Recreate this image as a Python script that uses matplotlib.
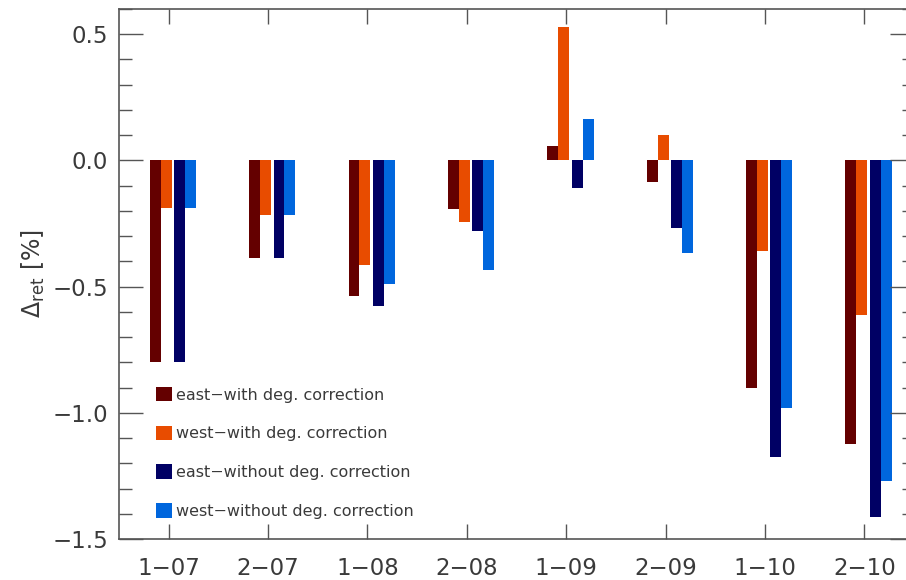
import numpy as np
import matplotlib
matplotlib.use("Agg")
import matplotlib.pyplot as plt
from matplotlib.ticker import MultipleLocator

# retrieval differences per campaign, in percent
campaigns = ["1-07", "2-07", "1-08", "2-08", "1-09", "2-09", "1-10", "2-10"]
east_with = [-0.80, -0.388, -0.538, -0.192, 0.057, -0.087, -0.90, -1.122]
west_with = [-0.19, -0.215, -0.414, -0.245, 0.529, 0.102, -0.36, -0.611]
east_without = [-0.80, -0.388, -0.575, -0.278, -0.108, -0.267, -1.175, -1.411]
west_without = [-0.19, -0.215, -0.491, -0.434, 0.163, -0.366, -0.981, -1.269]

series = [
    ("east\u2212with deg. correction", east_with, "#640000"),
    ("west\u2212with deg. correction", west_with, "#e84c00"),
    ("east\u2212without deg. correction", east_without, "#000064"),
    ("west\u2212without deg. correction", west_without, "#0066dd"),
]
offsets = [-0.135, -0.025, 0.11, 0.22]
width = 0.11

plt.rcParams['font.family'] = ['DejaVu Sans']
fig = plt.figure(figsize=(9.06, 5.8), dpi=100)
ax = fig.add_axes([119 / 906, 41 / 580, 795 / 906, 530 / 580])

x = np.arange(len(campaigns))
handles = []
for (label, vals, col), off in zip(series, offsets):
    b = ax.bar(x + off, vals, width, color=col, label=label, linewidth=0)
    handles.append(b)

ax.set_xlim(-0.5, len(campaigns) - 0.5)
ax.set_ylim(-1.5, 0.6)
ax.set_xticks(x)
ax.set_xticklabels([c.replace("-", "\u2212") for c in campaigns])
ax.yaxis.set_major_locator(MultipleLocator(0.5))
ax.yaxis.set_minor_locator(MultipleLocator(0.1))

for s in ax.spines.values():
    s.set_color("#555555")
    s.set_linewidth(1.2)
ax.tick_params(axis="both", which="both", direction="in", colors="#555555",
               labelcolor="#3a3a3a", labelsize=16.5, width=1.0)
ax.tick_params(axis="x", which="major", length=11, top=True, pad=13)
ax.tick_params(axis="y", which="major", length=17, right=True, pad=8)
ax.tick_params(axis="y", which="minor", length=9, right=True)
ax.tick_params(axis="x", which="minor", bottom=False, top=False)

ax.set_ylabel(r"$\Delta_{\rm ret}$ [%]", fontsize=17, color="#3a3a3a", labelpad=4)

ax.legend(handles=handles, loc="upper left", bbox_to_anchor=(0.047, 0.287),
          frameon=False, fontsize=11.5, handlelength=1.0, handleheight=1.0,
          handletextpad=0.2, labelspacing=1.45, borderpad=0, borderaxespad=0,
          labelcolor="#3a3a3a")

fig.savefig("out.png", dpi=100)
